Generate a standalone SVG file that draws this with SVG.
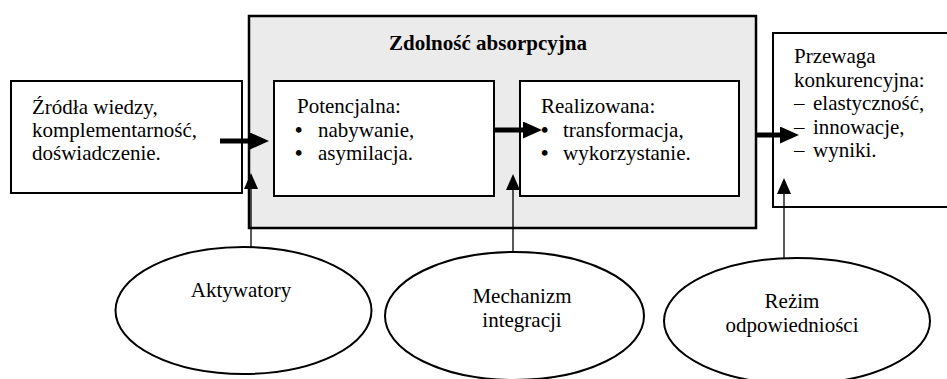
<svg xmlns="http://www.w3.org/2000/svg" width="947" height="379" viewBox="0 0 947 379">
  <defs>
    <marker id="thick" markerUnits="userSpaceOnUse" markerWidth="20" markerHeight="18" refX="0" refY="8.5" orient="auto">
      <path d="M0,0 L19,8.5 L0,17 Z" fill="#000"/>
    </marker>
    <marker id="thin" markerUnits="userSpaceOnUse" markerWidth="17" markerHeight="15" refX="0" refY="7" orient="auto">
      <path d="M0,0 L16,7 L0,14 Z" fill="#000"/>
    </marker>
    <style>
      text { font-family: "Liberation Serif", "Times New Roman", serif; font-size: 21px; fill: #000; }
      .title { font-weight: bold; text-anchor: middle; }
      .mid { text-anchor: middle; }
      .bul { font-weight: bold; }
      .box { fill: #fff; stroke: #000; stroke-width: 2; }
      .outer { fill: #ebebeb; stroke: #000; stroke-width: 2.5; }
      .ell { fill: #fff; stroke: #000; stroke-width: 2; }
      .thickc { stroke: #000; stroke-width: 5; fill: none; marker-end: url(#thick); }
      .thinc { stroke: #000; stroke-width: 1.3; fill: none; marker-end: url(#thin); }
    </style>
  </defs>

  <g id="absorptive-capacity">
    <rect class="outer" x="249" y="16" width="507" height="212"/>
    <text class="title" x="488" y="50">Zdolność absorpcyjna</text>
  </g>

  <g id="sources">
    <rect class="box" x="11" y="81" width="231" height="112"/>
    <text x="32" y="114">Źródła wiedzy,</text>
    <text x="32" y="137">komplementarność,</text>
    <text x="32" y="160">doświadczenie.</text>
  </g>

  <g id="potential">
    <rect class="box" x="274" y="81" width="220" height="115"/>
    <text x="297" y="113">Potencjalna:</text>
    <text y="137"><tspan class="bul" x="295">•</tspan><tspan x="318">nabywanie,</tspan></text>
    <text y="160"><tspan class="bul" x="295">•</tspan><tspan x="318">asymilacja.</tspan></text>
  </g>

  <g id="realized">
    <rect class="box" x="520" y="81" width="219" height="115"/>
    <text x="541" y="113">Realizowana:</text>
    <text y="137"><tspan class="bul" x="541">•</tspan><tspan x="563">transformacja,</tspan></text>
    <text y="160"><tspan class="bul" x="541">•</tspan><tspan x="563">wykorzystanie.</tspan></text>
  </g>

  <g id="advantage">
    <rect class="box" x="773" y="33" width="185" height="174"/>
    <text x="794" y="63">Przewaga</text>
    <text x="794" y="87">konkurencyjna:</text>
    <text y="110"><tspan x="794">–</tspan><tspan x="813">elastyczność,</tspan></text>
    <text y="134"><tspan x="794">–</tspan><tspan x="813">innowacje,</tspan></text>
    <text y="157"><tspan x="794">–</tspan><tspan x="813">wyniki.</tspan></text>
  </g>

  <g id="activators">
    <ellipse class="ell" cx="243.5" cy="310.5" rx="128" ry="63.5"/>
    <text class="mid" x="241" y="297">Aktywatory</text>
  </g>

  <g id="integration">
    <ellipse class="ell" cx="514.5" cy="316" rx="129.5" ry="64"/>
    <text class="mid" x="522" y="303">Mechanizm</text>
    <text class="mid" x="522" y="327">integracji</text>
  </g>

  <g id="regime">
    <ellipse class="ell" cx="797" cy="321" rx="133" ry="63"/>
    <text class="mid" x="792" y="308">Reżim</text>
    <text class="mid" x="792" y="332">odpowiedniości</text>
  </g>

  <g id="connectors">
    <line class="thickc" x1="220" y1="141" x2="250" y2="141"/>
    <line class="thickc" x1="494" y1="130" x2="523" y2="130"/>
    <line class="thickc" x1="756" y1="135" x2="780" y2="135"/>
    <line class="thinc" x1="251" y1="247" x2="251" y2="189"/>
    <line class="thinc" x1="513" y1="252" x2="513" y2="190"/>
    <line class="thinc" x1="784" y1="258" x2="784" y2="194"/>
  </g>
</svg>
